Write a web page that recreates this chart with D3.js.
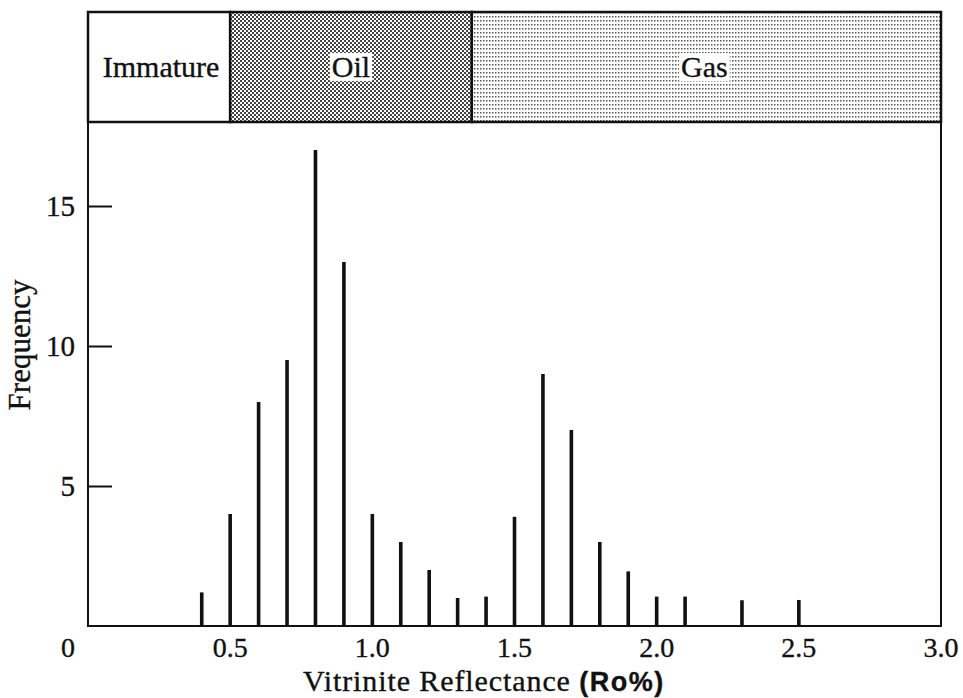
<!DOCTYPE html>
<html>
<head>
<meta charset="utf-8">
<script src="https://cdn.jsdelivr.net/npm/d3@7"></script>
<style>
  body { margin: 0; background: #fff; }
  text { font-family: "Liberation Serif", "DejaVu Serif", serif; fill: #111; stroke: #111; stroke-width: 0.35; }
</style>
</head>
<body>
<div id="chart"></div>
<script>
// vitrinite reflectance histogram values
var reflectance = [0.4, 0.5, 0.6, 0.7, 0.8, 0.9, 1.0, 1.1, 1.2, 1.3, 1.4, 1.5, 1.6, 1.7, 1.8, 1.9, 2.0, 2.1, 2.3, 2.5];
var frequency   = [1.2, 4, 8, 9.5, 17, 13, 4, 3, 2, 1, 1.05, 3.9, 9, 7, 3, 1.95, 1.05, 1.05, 0.92, 0.93];

var zoneNames = ["Immature", "Oil", "Gas"];
var zoneStart = [0, 0.5, 1.35];
var zoneEnd   = [0.5, 1.35, 3.0];

var xTicks = [0.5, 1.0, 1.5, 2.0, 2.5, 3.0];
var yTicks = [5, 10, 15];

var W = 963, H = 698;
var plotLeft = 88, plotRight = 941, plotTop = 122, plotBottom = 626, bandTop = 12;

var x = d3.scaleLinear().domain([0, 3]).range([plotLeft, plotRight]);
var y = d3.scaleLinear().domain([0, 18]).range([plotBottom, plotTop]);

var svg = d3.select('#chart').append('svg')
    .attr('width', W)
    .attr('height', H);

// halftone patterns for the zone band
var defs = svg.append('defs');
var oil = defs.append('pattern').attr('id', 'oilPat')
    .attr('patternUnits', 'userSpaceOnUse').attr('width', 4).attr('height', 4);
oil.append('rect').attr('width', 4).attr('height', 4).attr('fill', '#fff');
oil.append('rect').attr('x', 0).attr('y', 0).attr('width', 2).attr('height', 2).attr('fill', '#444');
oil.append('rect').attr('x', 2).attr('y', 2).attr('width', 2).attr('height', 2).attr('fill', '#444');

var gas = defs.append('pattern').attr('id', 'gasPat')
    .attr('patternUnits', 'userSpaceOnUse').attr('width', 3).attr('height', 4);
gas.append('rect').attr('width', 3).attr('height', 4).attr('fill', '#fff');
gas.append('rect').attr('x', 0).attr('y', 0).attr('width', 1.5).attr('height', 1.5).attr('fill', '#555');

var fills = ['#fff', 'url(#oilPat)', 'url(#gasPat)'];

var zones = zoneNames.map(function(n, i) {
    return {name: n, x0: zoneStart[i], x1: zoneEnd[i], fill: fills[i]};
});

var band = svg.append('g');
band.selectAll('rect.zone')
    .data(zones)
    .enter()
    .append('rect')
    .attr('class', 'zone')
    .attr('x', function(d) { return x(d.x0); })
    .attr('y', bandTop)
    .attr('width', function(d) { return x(d.x1) - x(d.x0); })
    .attr('height', plotTop - bandTop)
    .attr('fill', function(d) { return d.fill; })
    .attr('stroke', '#111')
    .attr('stroke-width', 2.5);

var labels = band.selectAll('g.zlabel')
    .data(zones)
    .enter()
    .append('g')
    .attr('class', 'zlabel');

labels.each(function(d, i) {
    var g = d3.select(this);
    var cx = (x(d.x0) + x(d.x1)) / 2;
    if (i === 0) cx += 2;
    if (i === 2) cx -= 2;
    var t = g.append('text')
        .attr('x', cx)
        .attr('y', 77)
        .attr('text-anchor', 'middle')
        .attr('font-size', 30)
        .text(d.name);
    if (i > 0) {
        var bb = t.node().getBBox();
        g.insert('rect', 'text')
            .attr('x', bb.x - 2)
            .attr('y', bb.y + 3)
            .attr('width', bb.width + 4)
            .attr('height', bb.height - 5)
            .attr('fill', '#fff')
            .attr('stroke', 'none');
    }
});

// bars
svg.append('g').selectAll('rect.bar')
    .data(reflectance)
    .enter()
    .append('rect')
    .attr('class', 'bar')
    .attr('x', function(d) { return x(d) - 1.8; })
    .attr('y', function(d, i) { return y(frequency[i]); })
    .attr('width', 3.6)
    .attr('height', function(d, i) { return y(0) - y(frequency[i]); })
    .attr('fill', '#111');

// frame
svg.append('rect')
    .attr('x', plotLeft)
    .attr('y', plotTop)
    .attr('width', plotRight - plotLeft)
    .attr('height', plotBottom - plotTop)
    .attr('fill', 'none')
    .attr('stroke', '#111')
    .attr('stroke-width', 2);

// y axis, ticks pointing inward
var yAxis = d3.axisRight(y).tickValues(yTicks).tickSize(24).tickFormat('');
var yg = svg.append('g').attr('transform', 'translate(' + plotLeft + ',0)').call(yAxis);
yg.select('.domain').remove();
yg.selectAll('line').attr('stroke', '#111').attr('stroke-width', 2);

svg.append('g').selectAll('text.ylab')
    .data(yTicks)
    .enter()
    .append('text')
    .attr('class', 'ylab')
    .attr('x', 75)
    .attr('y', function(d) { return y(d) + 10; })
    .attr('text-anchor', 'end')
    .attr('font-size', 29)
    .text(function(d) { return d; });

// x tick labels
svg.append('g').selectAll('text.xlab')
    .data(xTicks)
    .enter()
    .append('text')
    .attr('class', 'xlab')
    .attr('x', function(d) { return x(d); })
    .attr('y', 657)
    .attr('text-anchor', 'middle')
    .attr('font-size', 28)
    .text(d3.format('.1f'));

// origin label
svg.append('text')
    .attr('x', x(0) - 20)
    .attr('y', 657)
    .attr('text-anchor', 'middle')
    .attr('font-size', 28)
    .text('0');

// axis titles
var xt = svg.append('text')
    .attr('x', 303)
    .attr('y', 691)
    .attr('font-size', 30)
    .attr('letter-spacing', 0.9);
xt.append('tspan').text('Vitrinite Reflectance ');
xt.append('tspan')
    .style('font-family', '"Liberation Sans", Arial, sans-serif')
    .attr('font-weight', 'bold')
    .attr('font-size', 27)
    .attr('letter-spacing', 1.5)
    .text('(Ro%)');

svg.append('text')
    .attr('transform', 'translate(30,345) rotate(-90)')
    .attr('text-anchor', 'middle')
    .attr('font-size', 31)
    .text('Frequency');
</script>
</body>
</html>
